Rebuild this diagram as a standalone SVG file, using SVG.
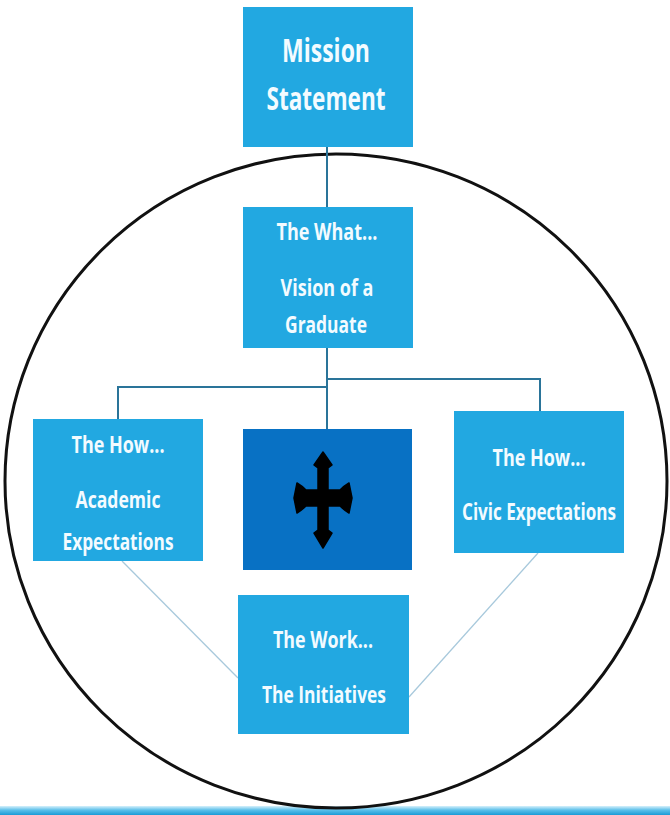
<svg xmlns="http://www.w3.org/2000/svg" width="670" height="815" viewBox="0 0 670 815">
  <defs>
    <style>
      .box { fill: #22a8e1; }
      .dark { fill: #0871c4; }
      .t { font-family: "Open Sans", "Noto Sans", "Liberation Sans", sans-serif; font-weight: 700; fill: #f3fbff; text-anchor: middle; font-size: 24px; }
      .big { font-size: 32px; }
      .conn { stroke: #2a7499; stroke-width: 2; fill: none; }
      .diag { stroke: #a8c9dc; stroke-width: 1.3; fill: none; }
    </style>
    <linearGradient id="bar" x1="0" y1="0" x2="0" y2="1">
      <stop offset="0" stop-color="#d6f0fb"/>
      <stop offset="0.45" stop-color="#5cc0ea"/>
      <stop offset="1" stop-color="#1a9bd6"/>
    </linearGradient>
  </defs>
  <rect width="670" height="815" fill="#ffffff"/>
  <rect x="0" y="806" width="670" height="9" fill="url(#bar)"/>

  <ellipse id="boundary" cx="336" cy="481" rx="331" ry="327" fill="none" stroke="#111" stroke-width="3"/>

  <g id="connectors">
    <line class="conn" x1="327" y1="147" x2="327" y2="207"/>
    <line class="conn" x1="327" y1="348" x2="327" y2="430"/>
    <polyline class="conn" points="327,387 118,387 118,420"/>
    <polyline class="conn" points="327,379 540,379 540,412"/>
    <line class="diag" x1="122" y1="561" x2="238" y2="678"/>
    <line class="diag" x1="538" y1="553" x2="409" y2="697"/>
  </g>

  <g id="mission">
    <rect class="box" x="243" y="7" width="170" height="140"/>
    <text class="t big" x="326" y="62" textLength="88" lengthAdjust="spacingAndGlyphs">Mission</text>
    <text class="t big" x="326" y="110" textLength="119" lengthAdjust="spacingAndGlyphs">Statement</text>
  </g>

  <g id="what">
    <rect class="box" x="243" y="207" width="170" height="141"/>
    <text class="t" x="327" y="240" textLength="101" lengthAdjust="spacingAndGlyphs">The What...</text>
    <text class="t" x="327" y="296" textLength="93" lengthAdjust="spacingAndGlyphs">Vision of a</text>
    <text class="t" x="326" y="333" textLength="82" lengthAdjust="spacingAndGlyphs">Graduate</text>
  </g>

  <g id="academic">
    <rect class="box" x="33" y="419" width="170" height="142"/>
    <text class="t" x="118" y="453" textLength="93" lengthAdjust="spacingAndGlyphs">The How...</text>
    <text class="t" x="118" y="508" textLength="85" lengthAdjust="spacingAndGlyphs">Academic</text>
    <text class="t" x="118" y="550" textLength="111" lengthAdjust="spacingAndGlyphs">Expectations</text>
  </g>

  <g id="center">
    <rect class="dark" x="243" y="429" width="169" height="141"/>
    <path fill="#000" stroke="#000" stroke-width="1.5" stroke-linejoin="round" d="M323,452 L332,465 L328,468 L328,490 L340,490 Q344,486 349,483 L352,498 L349,513 Q344,510 340,506 L328,506 L328,530 L332,533 L323,548 L314,533 L318,530 L318,506 L306,506 Q302,510 297,513 L294,498 L297,483 Q302,486 306,490 L318,490 L318,468 L314,465 Z"/>
  </g>

  <g id="civic">
    <rect class="box" x="454" y="411" width="170" height="142"/>
    <text class="t" x="539" y="466" textLength="93" lengthAdjust="spacingAndGlyphs">The How...</text>
    <text class="t" transform="translate(539,520) scale(0.7,1)" x="0" y="0" textLength="220" lengthAdjust="spacingAndGlyphs">Civic Expectations</text>
  </g>

  <g id="work">
    <rect class="box" x="238" y="595" width="171" height="139"/>
    <text class="t" x="323" y="648" textLength="100" lengthAdjust="spacingAndGlyphs">The Work...</text>
    <text class="t" x="324" y="703" textLength="124" lengthAdjust="spacingAndGlyphs">The Initiatives</text>
  </g>
</svg>
